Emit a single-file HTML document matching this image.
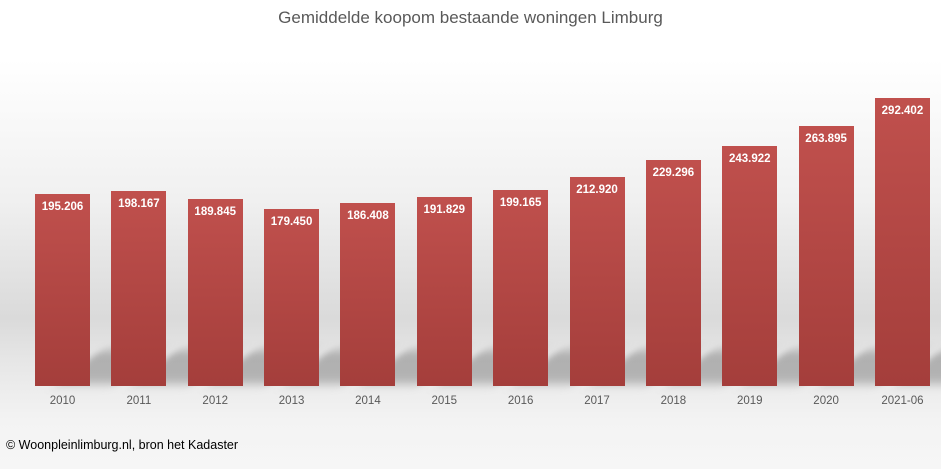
<!DOCTYPE html>
<html><head><meta charset="utf-8"><style>
body{margin:0;}
#c{position:relative;width:941px;height:469px;overflow:hidden;font-family:"Liberation Sans",Calibri,sans-serif;
background:linear-gradient(to bottom,#fff 0px,#fff 60px,#f0f0f0 200px,#dadada 318px,#e6e6e6 360px,#f3f3f3 420px,#f6f6f6 469px);}
.t{position:absolute;top:8px;left:0;width:941px;text-align:center;font-size:17px;color:#595959;}
.b{position:absolute;width:55px;background:linear-gradient(to bottom,#c0504d,#a43e3b);}
.v{position:absolute;width:55px;text-align:center;color:#fff;font-weight:bold;font-size:11.5px;}
.x{position:absolute;top:395px;width:76px;text-align:center;font-size:11.5px;color:#595959;}
.s{position:absolute;height:34px;width:60px;top:350px;background:rgba(110,110,110,0.45);filter:blur(5px);transform:skewX(-50deg);}
.f{position:absolute;left:6px;top:438px;font-size:12.5px;color:#000;}
</style></head><body><div id="c">
<div class="t">Gemiddelde koopom bestaande woningen Limburg</div>
<div id="bars"></div>
<div class="f">© Woonpleinlimburg.nl, bron het Kadaster</div>
</div>
<script>
var d=[["2010",195206],["2011",198167],["2012",189845],["2013",179450],["2014",186408],["2015",191829],["2016",199165],["2017",212920],["2018",229296],["2019",243922],["2020",263895],["2021-06",292402]];
var h="";var k=(386-194)/195206;
d.forEach(function(e,i){var x=35+i*76.36;
h+='<div class="s" style="left:'+(x+45)+'px"></div>';});
d.forEach(function(e,i){var x=35+i*76.36;var t=386-e[1]*k;
var s=e[1].toString();s=s.slice(0,3)+"."+s.slice(3);
h+='<div class="b" style="left:'+x+'px;top:'+t+'px;height:'+(386-t)+'px"></div>';
h+='<div class="v" style="left:'+x+'px;top:'+(t+7)+'px">'+s+'</div>';
h+='<div class="x" style="left:'+(x-10.5)+'px">'+e[0]+'</div>';});
document.getElementById("bars").innerHTML=h;
</script>
</body></html>
